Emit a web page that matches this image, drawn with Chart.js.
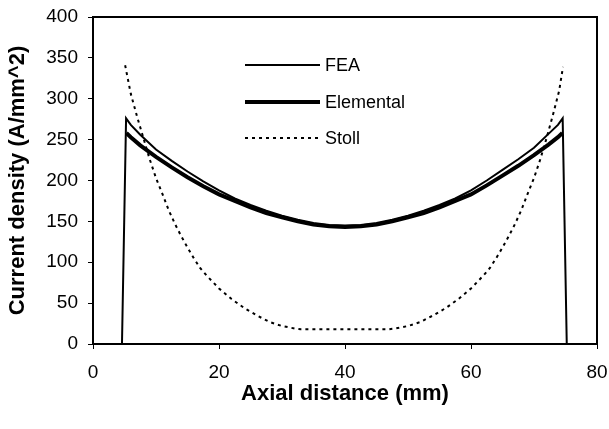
<!DOCTYPE html>
<html>
<head>
<meta charset="utf-8">
<script src="https://cdn.jsdelivr.net/npm/chart.js@4.4.1/dist/chart.umd.min.js"></script>
<style>
  html, body { margin: 0; padding: 0; background: #fff; }
  #wrap { width: 609px; height: 429px; }
</style>
</head>
<body>
<div id="wrap"><canvas id="grafica" width="609" height="429"></canvas></div>
<script>
// valores (mm, A/mm^2)
const feaX = [4.6, 5.25, 6, 7.5, 10, 12.5, 15, 17.5, 20, 22.5, 25, 27.5, 30, 32.5, 35, 37.5, 40,
    42.5, 45, 47.5, 50, 52.5, 55, 57.5, 60, 62.5, 65, 67.5, 70, 72.3, 73.8, 74.55, 75.2];
const feaY = [0, 276, 268, 256, 238, 224, 211, 199, 188, 178, 170, 163, 157, 152, 148, 145.5, 145,
    145.5, 148, 152, 157, 163, 170, 178, 188, 200, 213, 226, 240, 257, 268, 276, 0];

const elemX = [5.3, 6, 7.5, 10, 12.5, 15, 17.5, 20, 22.5, 25, 27.5, 30, 32.5, 35, 37.5, 40,
    42.5, 45, 47.5, 50, 52.5, 55, 57.5, 60, 62.5, 65, 67.5, 70, 72.3, 73.8, 74.5];
const elemY = [258, 253, 243, 229, 216, 204, 193, 183, 175, 167, 160, 155, 150, 146, 144, 143,
    144, 146, 150, 155, 160, 167, 175, 183, 194, 206, 218, 231, 244, 253, 258];

const stollX = [5.1, 6, 7, 8, 9, 10, 11, 12, 13, 14, 15, 16, 17, 18, 19, 20, 22, 24, 26, 28, 30, 32, 33,
    40, 47, 48, 50, 52, 54, 56, 58, 60, 61, 62, 63, 64, 65, 66, 67, 68, 69, 70, 71, 72, 73, 74, 74.6];
const stollY = [341, 306, 278, 252, 226, 203, 184, 164, 147, 132, 118, 105, 93, 84, 76, 68, 55, 44, 35, 27, 22, 19, 18,
    18, 18, 19, 22, 27, 35, 44, 55, 68, 76, 84, 93, 105, 118, 132, 147, 164, 184, 203, 226, 252, 280, 310, 339];

const xTicks = [0, 20, 40, 60, 80];
const yTicks = [0, 50, 100, 150, 200, 250, 300, 350, 400];

const fuente = '"Liberation Sans", Arial, sans-serif';

function puntos(xs, ys) {
    return xs.map((x, i) => ({ x: x, y: ys[i] }));
}

// marco superior/derecho y leyenda dentro del area
const marcoYLeyenda = {
    id: 'marcoYLeyenda',
    afterDatasetsDraw(chart) {
        const ctx = chart.ctx;
        const a = chart.chartArea;
        ctx.save();
        ctx.strokeStyle = '#000';
        ctx.lineWidth = 2;
        ctx.beginPath();
        ctx.moveTo(a.left, a.top);
        ctx.lineTo(a.right, a.top);
        ctx.lineTo(a.right, a.bottom);
        ctx.stroke();

        const items = chart.data.datasets;
        const filas = [65, 102, 138];
        ctx.font = '18px ' + fuente;
        ctx.textBaseline = 'middle';
        ctx.fillStyle = '#000';
        items.forEach((ds, i) => {
            ctx.beginPath();
            ctx.lineWidth = ds.borderWidth;
            ctx.setLineDash(ds.borderDash || []);
            ctx.moveTo(245, filas[i]);
            ctx.lineTo(320, filas[i]);
            ctx.stroke();
            ctx.setLineDash([]);
            ctx.fillText(ds.label, 325, filas[i] + 1);
        });
        ctx.restore();
    }
};

const ctx = document.getElementById('grafica').getContext('2d');
const grafica = new Chart(ctx, {
    type: 'line',
    data: {
        datasets: [{
            label: 'FEA',
            data: puntos(feaX, feaY),
            borderColor: '#000',
            borderWidth: 2,
            pointRadius: 0,
            tension: 0
        }, {
            label: 'Elemental',
            data: puntos(elemX, elemY),
            borderColor: '#000',
            borderWidth: 4,
            pointRadius: 0,
            tension: 0
        }, {
            label: 'Stoll',
            data: puntos(stollX, stollY),
            borderColor: '#000',
            borderWidth: 2,
            borderDash: [3, 4],
            pointRadius: 0,
            tension: 0
        }]
    },
    options: {
        responsive: false,
        animation: false,
        layout: { padding: { top: 17, right: 12, left: 0, bottom: 0 } },
        plugins: {
            legend: { display: false },
            tooltip: { enabled: false }
        },
        scales: {
            x: {
                type: 'linear',
                min: 0,
                max: 80,
                afterBuildTicks: s => { s.ticks = xTicks.map(v => ({ value: v })); },
                afterFit: s => { s.height = 85; s.paddingLeft = 0; s.paddingRight = 0; },
                grid: { display: true, drawOnChartArea: false, drawTicks: true, tickLength: 5, color: '#000', lineWidth: 1 },
                border: { display: true, color: '#000', width: 2 },
                ticks: { color: '#000', font: { family: fuente, size: 19 }, padding: 12, maxRotation: 0 },
                title: {
                    display: true,
                    text: 'Axial distance (mm)',
                    color: '#000',
                    font: { family: fuente, size: 22, weight: 'bold' },
                    padding: { top: 0, bottom: 22 }
                }
            },
            y: {
                min: 0,
                max: 400,
                afterBuildTicks: s => { s.ticks = yTicks.map(v => ({ value: v })); },
                afterFit: s => { s.width = 93; s.paddingTop = 0; s.paddingBottom = 0; },
                grid: { display: true, drawOnChartArea: false, drawTicks: true, tickLength: 5, color: '#000', lineWidth: 1 },
                border: { display: true, color: '#000', width: 2 },
                ticks: { color: '#000', font: { family: fuente, size: 19 }, padding: 10 },
                title: {
                    display: true,
                    text: 'Current density (A/mm^2)',
                    color: '#000',
                    font: { family: fuente, size: 22, weight: 'bold' },
                    padding: { top: 5, bottom: 0 }
                }
            }
        }
    },
    plugins: [marcoYLeyenda]
});
</script>
</body>
</html>
